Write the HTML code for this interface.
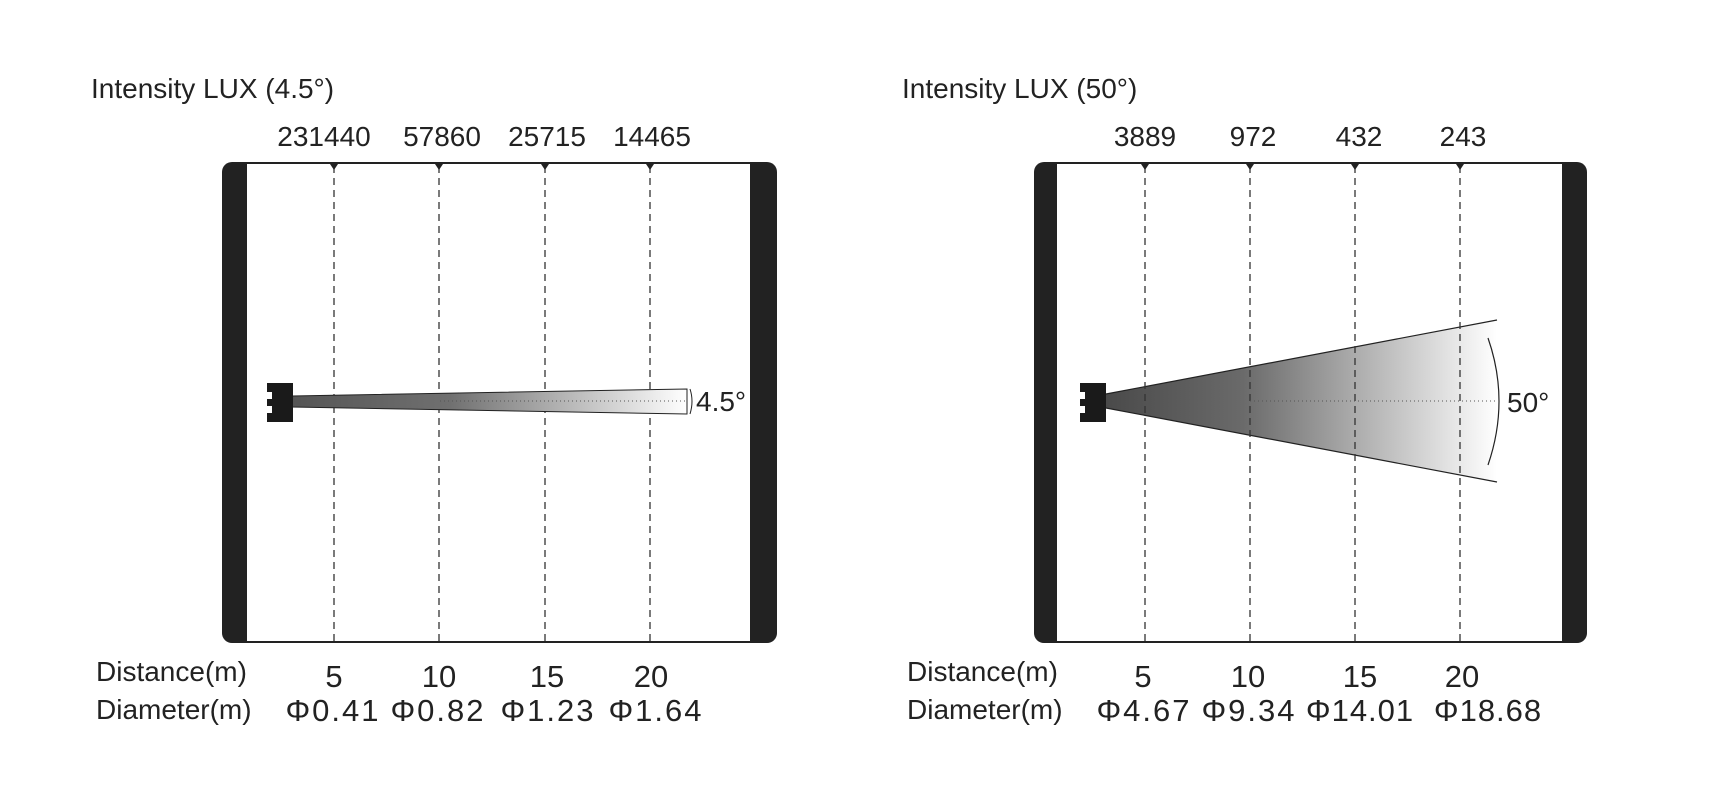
<!DOCTYPE html>
<html><head><style>
html,body{margin:0;padding:0;background:#fff;}
svg{display:block;font-family:"Liberation Sans",sans-serif;}
</style></head><body>
<svg width="1715" height="809" viewBox="0 0 1715 809" xmlns="http://www.w3.org/2000/svg">
<defs>
<linearGradient id="g1" x1="0" x2="1" y1="0" y2="0">
<stop offset="0" stop-color="#555"/><stop offset="0.4" stop-color="#707070"/><stop offset="1" stop-color="#fff"/></linearGradient>
<linearGradient id="g2" x1="0" x2="1" y1="0" y2="0">
<stop offset="0" stop-color="#4a4a4a"/><stop offset="0.35" stop-color="#6a6a6a"/><stop offset="1" stop-color="#fff"/></linearGradient>
</defs>
<g fill="#222" font-size="28">
<text x="91" y="98">Intensity LUX (4.5°)</text>
<text x="902" y="98">Intensity LUX (50°)</text>
<g text-anchor="middle" font-size="28">
<text x="324" y="146">231440</text><text x="442" y="146">57860</text><text x="547" y="146">25715</text><text x="652" y="146">14465</text>
<text x="1145" y="146">3889</text><text x="1253" y="146">972</text><text x="1359" y="146">432</text><text x="1463" y="146">243</text>
</g>
<text x="96" y="681">Distance(m)</text>
<text x="96" y="719">Diameter(m)</text>
<text x="907" y="681">Distance(m)</text>
<text x="907" y="719">Diameter(m)</text>
<g text-anchor="middle" font-size="31">
<text x="334" y="687">5</text><text x="439" y="687">10</text><text x="547" y="687">15</text><text x="651" y="687">20</text>
<text x="1143" y="687">5</text><text x="1248" y="687">10</text><text x="1360" y="687">15</text><text x="1462" y="687">20</text>
<text x="333" y="721" letter-spacing="2">Φ0.41</text><text x="438" y="721" letter-spacing="2">Φ0.82</text><text x="548" y="721" letter-spacing="2">Φ1.23</text><text x="656" y="721" letter-spacing="2">Φ1.64</text>
<text x="1144" y="721" letter-spacing="2">Φ4.67</text><text x="1249" y="721" letter-spacing="2">Φ9.34</text><text x="1360" y="721" letter-spacing="1">Φ14.01</text><text x="1488" y="721" letter-spacing="1">Φ18.68</text>
</g>
</g>
<!-- left panel -->
<rect x="222" y="162" width="555" height="481" rx="10" fill="#222"/>
<rect x="247" y="164" width="503" height="477" fill="#fff"/>
<g stroke="#333" stroke-width="1.3" stroke-dasharray="7,5">
<line x1="334" y1="166" x2="334" y2="643"/><line x1="439" y1="166" x2="439" y2="643"/><line x1="545" y1="166" x2="545" y2="643"/><line x1="650" y1="166" x2="650" y2="643"/>
</g>
<g fill="#222"><path d="M330,164h8l-4,6z"/><path d="M435,164h8l-4,6z"/><path d="M541,164h8l-4,6z"/><path d="M646,164h8l-4,6z"/></g>
<polygon points="292,396 687,389 687,414 292,407" fill="url(#g1)" stroke="#222" stroke-width="1"/>
<line x1="440" y1="401" x2="687" y2="401" stroke="#555" stroke-dasharray="1,3"/>
<path d="M690,389 Q694,401 690,414" fill="none" stroke="#222"/>
<path d="M267,383h26v39h-26v-9h5v-7h-5v-7h5v-7h-5z" fill="#1a1a1a"/>
<text x="696" y="411" font-size="28" fill="#222">4.5°</text>
<!-- right panel -->
<rect x="1034" y="162" width="553" height="481" rx="10" fill="#222"/>
<rect x="1057" y="164" width="505" height="477" fill="#fff"/>
<polygon points="1106,394 1497,320 1497,482 1106,408" fill="url(#g2)"/>
<line x1="1106" y1="394" x2="1497" y2="320" stroke="#222" stroke-width="1.2"/>
<line x1="1106" y1="408" x2="1497" y2="482" stroke="#222" stroke-width="1.2"/>
<g stroke="#333" stroke-width="1.3" stroke-dasharray="7,5">
<line x1="1145" y1="166" x2="1145" y2="643"/><line x1="1250" y1="166" x2="1250" y2="643"/><line x1="1355" y1="166" x2="1355" y2="643"/><line x1="1460" y1="166" x2="1460" y2="643"/>
</g>
<g fill="#222"><path d="M1141,164h8l-4,6z"/><path d="M1246,164h8l-4,6z"/><path d="M1351,164h8l-4,6z"/><path d="M1456,164h8l-4,6z"/></g>
<line x1="1250" y1="401" x2="1495" y2="401" stroke="#555" stroke-dasharray="1,3"/>
<path d="M1488,338 Q1510,401 1488,465" fill="none" stroke="#222" stroke-width="1.2"/>
<path d="M1080,383h26v39h-26v-9h5v-7h-5v-7h5v-7h-5z" fill="#1a1a1a"/>
<text x="1507" y="412" font-size="28" fill="#222">50°</text>
</svg>
</body></html>
